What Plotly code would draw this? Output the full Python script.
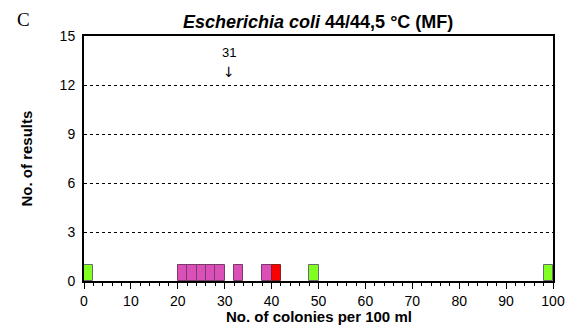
import plotly.graph_objects as go

bin_starts = [0, 20, 22, 24, 26, 28, 32, 38, 40, 48, 98]
counts = [1, 1, 1, 1, 1, 1, 1, 1, 1, 1, 1]
groups = ["green", "magenta", "magenta", "magenta", "magenta", "magenta", "magenta", "magenta", "red", "green", "green"]
bin_width = 2
assigned_value = 31
y_ticks = [0, 3, 6, 9, 12, 15]
x_ticks = [0, 10, 20, 30, 40, 50, 60, 70, 80, 90, 100]

fill = {"green": "#80FF20", "magenta": "#DB4FB8", "red": "#FF0000"}
edge = {"green": "#6a6a6a", "magenta": "#7a3a6a", "red": "#8a2020"}

W, H = 567, 317
L, R, T, B = 76, 22, 28, 44
PW = W - L - R
PH = H - T - B

fig = go.Figure()
fig.add_trace(go.Bar(
    x=[s + bin_width / 2 for s in bin_starts],
    y=counts,
    width=[bin_width] * len(bin_starts),
    marker=dict(color=[fill[g] for g in groups],
                line=dict(color=[edge[g] for g in groups], width=1)),
    showlegend=False,
))

fig.add_annotation(x=assigned_value, y=13.96, text=str(assigned_value),
                   showarrow=False, font=dict(family="Liberation Sans", size=13, color="black"),
                   xref="x", yref="y")
fig.add_annotation(x=assigned_value, y=12.8, text="↓",
                   showarrow=False, font=dict(family="DejaVu Sans", size=14, color="black"),
                   xref="x", yref="y")

fig.add_annotation(xref="paper", yref="paper", x=(15 - L) / PW, y=1.0, yshift=17,
                   text="C", showarrow=False, xanchor="center", yanchor="middle",
                   font=dict(family="Liberation Serif", size=19, color="black"))
fig.add_annotation(xref="paper", yref="paper", x=(309.5 - L) / PW, y=1.0, yshift=14.5,
                   xanchor="center", yanchor="middle",
                   text="<b><i>Escherichia coli</i> 44/44,5 °C (MF)</b>", showarrow=False,
                   font=dict(family="Liberation Sans", size=18, color="black"))
fig.add_annotation(xref="paper", yref="paper", x=(18 - L) / PW, y=0.5, textangle=-90,
                   xanchor="center", yanchor="middle",
                   text="<b>No. of results</b>", showarrow=False,
                   font=dict(family="Liberation Sans", size=15, color="black"))
fig.add_annotation(xref="paper", yref="paper", x=0.5, y=0, yshift=-35,
                   xanchor="center", yanchor="middle",
                   text="<b>No. of colonies per 100 ml</b>", showarrow=False,
                   font=dict(family="Liberation Sans", size=15, color="black"))

fig.update_layout(
    width=W, height=H,
    margin=dict(l=L, r=R, t=T, b=B, autoexpand=False),
    plot_bgcolor="white", paper_bgcolor="white",
    bargap=0,
    font=dict(family="Liberation Sans", size=14, color="black"),
    xaxis=dict(range=[0, 100], tickvals=x_ticks, ticks="outside", ticklen=6, tickwidth=1,
               tickcolor="black", showline=True, linecolor="black", linewidth=2, mirror=True,
               showgrid=False, zeroline=False, automargin=False,
               minor=dict(dtick=2, tick0=0, ticks="outside", ticklen=3, tickcolor="black", showgrid=False)),
    yaxis=dict(range=[0, 15], tickvals=y_ticks, ticks="", showline=True, linecolor="black",
               linewidth=2, mirror=True, showgrid=True, gridcolor="black", griddash="dot",
               gridwidth=1, zeroline=False, automargin=False, ticklabelstandoff=4),
)

fig.write_html("out.html")
